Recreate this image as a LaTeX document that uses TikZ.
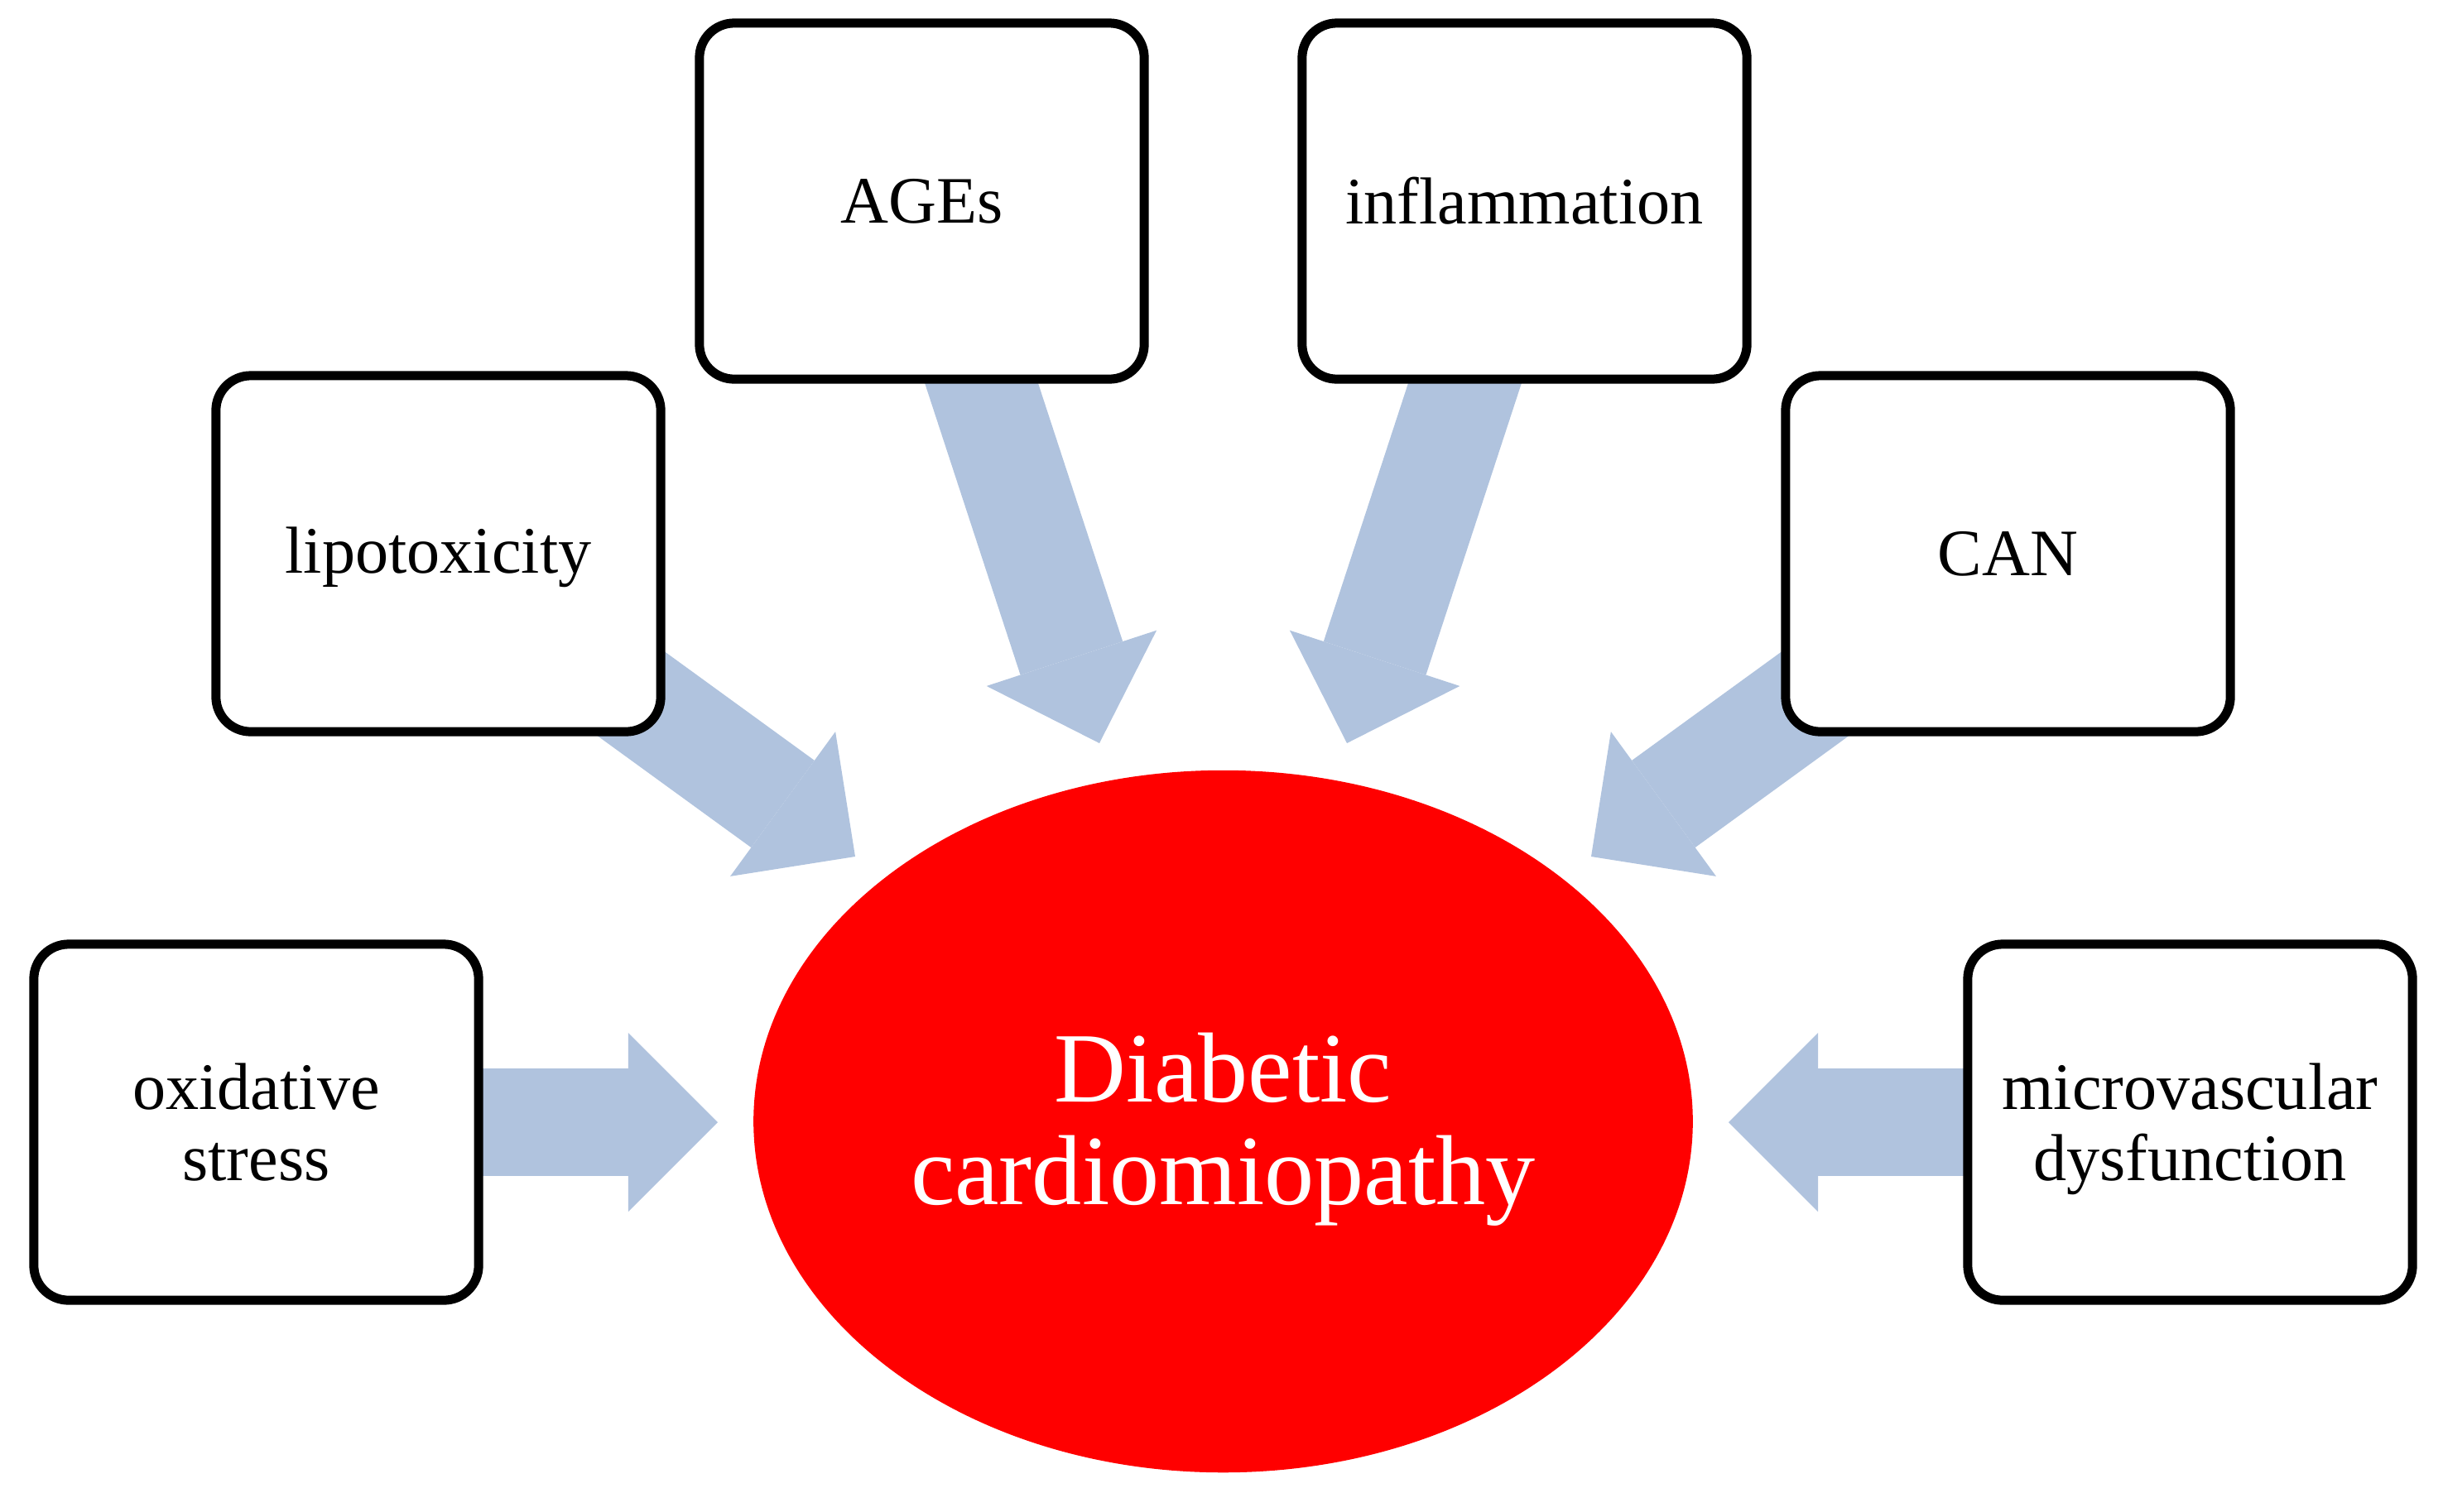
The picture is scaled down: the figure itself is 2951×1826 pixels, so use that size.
\documentclass[tikz,border=0pt]{standalone}
\usepackage{fontspec}
\setmainfont{Liberation Serif}
\usetikzlibrary{arrows.meta,shapes.geometric,backgrounds}
\definecolor{arrowc}{RGB}{176,195,222}
\definecolor{dcred}{RGB}{255,0,0}
\begin{document}
\begin{tikzpicture}[x=0.01cm,y=-0.01cm,
  factor/.style={draw=black, line width=0.11cm, rounded corners=0.42cm, fill=white,
    minimum width=5.37cm, minimum height=4.30cm, inner sep=0pt, align=center,
    font=\fontsize{22.8}{24.5}\selectfont},
  hub/.style={ellipse, fill=dcred, text=white, minimum width=11.34cm, minimum height=8.48cm,
    inner sep=0pt, align=center, font=\fontsize{34.2}{35.2}\selectfont},
  bigarrow/.style={draw=arrowc, line width=1.3cm,
    -{Triangle[length=1.08cm,width=2.16cm,line width=0pt]}}]
\useasboundingbox (0,0) rectangle (2951,1826);
% factor boxes
\node[factor] (ages) at (1113.5,243) {AGEs};
\node[factor] (infl) at (1841.5,243) {inflammation};
\node[factor, text depth=0.08cm] (lipo) at (529.5,669) {lipotoxicity};
\node[factor] (can)  at (2425.5,669) {CAN};
\node[factor] (oxid) at (309.5,1356) {oxidative\\stress};
\node[factor, text depth=0pt] (micro) at (2645.5,1356) {microvascular\\dysfunction};
% central ellipse
\node[hub, text height=2.26cm] (dc) at (1477.5,1355) {Diabetic\\cardiomiopathy};
% arrow tips
\coordinate (tOx) at (867,1356);
\coordinate (tLip) at (1033,1035);
\coordinate (tAge) at (1328,898);
\coordinate (tInf) at (1627,898);
\coordinate (tCan) at (1922,1035);
\coordinate (tMic) at (2088,1356);
\begin{scope}[on background layer]
\draw[bigarrow] (oxid.center) -- (tOx);
\draw[bigarrow] (lipo.center) -- (tLip);
\draw[bigarrow] (ages.center) -- (tAge);
\draw[bigarrow] (infl.center) -- (tInf);
\draw[bigarrow] (can.center) -- (tCan);
\draw[bigarrow] (micro.center) -- (tMic);
\end{scope}
\end{tikzpicture}
\end{document}
